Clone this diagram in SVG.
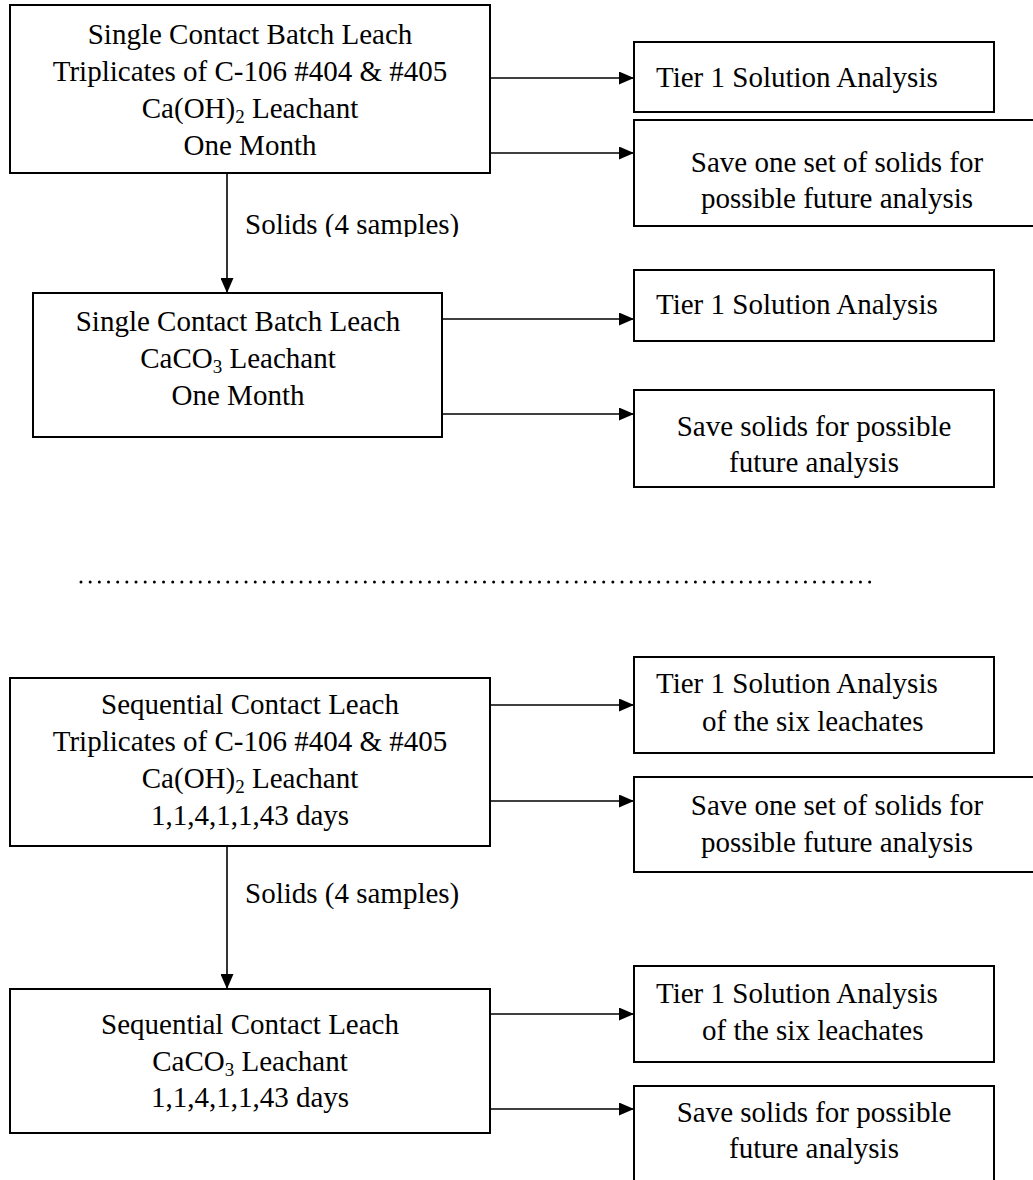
<svg xmlns="http://www.w3.org/2000/svg" width="1033" height="1180" viewBox="0 0 1033 1180">
<style>
  .box { fill: #ffffff; stroke: #000000; stroke-width: 2; }
  .t { font-family: "Liberation Serif", "Times New Roman", serif; font-size: 29px; fill: #000000; }
  .c { text-anchor: middle; }
  .conn { stroke: #000000; stroke-width: 1.6; fill: none; marker-end: url(#ah); }
  .dots { stroke: #000000; stroke-width: 3; stroke-linecap: round; stroke-dasharray: 0 9.17; fill: none; }
</style>
<defs>
  <marker id="ah" viewBox="0 0 15 13" refX="15" refY="6.5" markerWidth="15" markerHeight="13" markerUnits="userSpaceOnUse" orient="auto">
    <path d="M0,0 L15,6.5 L0,13 Z" fill="#000000"/>
  </marker>
  <clipPath id="clipLabel1"><rect x="240" y="190" width="260" height="47"/></clipPath>
</defs>
<rect width="1033" height="1180" fill="#ffffff"/>

<g id="connectors">
  <line class="conn" x1="490" y1="78" x2="634" y2="78"/>
  <line class="conn" x1="490" y1="153" x2="634" y2="153"/>
  <line class="conn" x1="227" y1="173" x2="227" y2="293"/>
  <line class="conn" x1="442" y1="319" x2="634" y2="319"/>
  <line class="conn" x1="442" y1="414" x2="634" y2="414"/>
  <line class="conn" x1="490" y1="705" x2="634" y2="705"/>
  <line class="conn" x1="490" y1="801" x2="634" y2="801"/>
  <line class="conn" x1="227" y1="846" x2="227" y2="989"/>
  <line class="conn" x1="490" y1="1014" x2="634" y2="1014"/>
  <line class="conn" x1="490" y1="1109" x2="634" y2="1109"/>
  <text class="t" x="245" y="234" clip-path="url(#clipLabel1)">Solids (4 samples)</text>
  <text class="t" x="245" y="903">Solids (4 samples)</text>
</g>

<g id="separator">
  <line class="dots" x1="81" y1="582" x2="870" y2="582"/>
</g>

<g id="batchCaOH">
  <rect class="box" x="10" y="5" width="480" height="168"/>
  <text class="t c" x="250" y="44">Single Contact Batch Leach</text>
  <text class="t c" x="250" y="81">Triplicates of C-106 #404 &amp; #405</text>
  <text class="t c" x="250" y="118">Ca(OH)<tspan font-size="19" dy="5">2</tspan><tspan dy="-5"> Leachant</tspan></text>
  <text class="t c" x="250" y="155">One Month</text>
</g>

<g id="tier1A">
  <rect class="box" x="634" y="42" width="360" height="70"/>
  <text class="t" x="656" y="87">Tier 1 Solution Analysis</text>
</g>

<g id="saveA">
  <rect class="box" x="634" y="120" width="420" height="106"/>
  <text class="t c" x="837" y="172">Save one set of solids for</text>
  <text class="t c" x="837" y="208">possible future analysis</text>
</g>

<g id="batchCaCO3">
  <rect class="box" x="33" y="293" width="409" height="144"/>
  <text class="t c" x="238" y="331">Single Contact Batch Leach</text>
  <text class="t c" x="238" y="368">CaCO<tspan font-size="19" dy="5">3</tspan><tspan dy="-5"> Leachant</tspan></text>
  <text class="t c" x="238" y="405">One Month</text>
</g>

<g id="tier1B">
  <rect class="box" x="634" y="270" width="360" height="71"/>
  <text class="t" x="656" y="314">Tier 1 Solution Analysis</text>
</g>

<g id="saveB">
  <rect class="box" x="634" y="390" width="360" height="97"/>
  <text class="t c" x="814" y="436">Save solids for possible</text>
  <text class="t c" x="814" y="472">future analysis</text>
</g>

<g id="seqCaOH">
  <rect class="box" x="10" y="678" width="480" height="168"/>
  <text class="t c" x="250" y="714">Sequential Contact Leach</text>
  <text class="t c" x="250" y="751">Triplicates of C-106 #404 &amp; #405</text>
  <text class="t c" x="250" y="788">Ca(OH)<tspan font-size="19" dy="5">2</tspan><tspan dy="-5"> Leachant</tspan></text>
  <text class="t c" x="250" y="825">1,1,4,1,1,43 days</text>
</g>

<g id="tier1C">
  <rect class="box" x="634" y="657" width="360" height="96"/>
  <text class="t" x="656" y="693">Tier 1 Solution Analysis</text>
  <text class="t" x="702" y="731">of the six leachates</text>
</g>

<g id="saveC">
  <rect class="box" x="634" y="777" width="420" height="95"/>
  <text class="t c" x="837" y="815">Save one set of solids for</text>
  <text class="t c" x="837" y="852">possible future analysis</text>
</g>

<g id="seqCaCO3">
  <rect class="box" x="10" y="989" width="480" height="144"/>
  <text class="t c" x="250" y="1034">Sequential Contact Leach</text>
  <text class="t c" x="250" y="1071">CaCO<tspan font-size="19" dy="5">3</tspan><tspan dy="-5"> Leachant</tspan></text>
  <text class="t c" x="250" y="1107">1,1,4,1,1,43 days</text>
</g>

<g id="tier1D">
  <rect class="box" x="634" y="966" width="360" height="96"/>
  <text class="t" x="656" y="1003">Tier 1 Solution Analysis</text>
  <text class="t" x="702" y="1040">of the six leachates</text>
</g>

<g id="saveD">
  <rect class="box" x="634" y="1086" width="360" height="110"/>
  <text class="t c" x="814" y="1122">Save solids for possible</text>
  <text class="t c" x="814" y="1158">future analysis</text>
</g>
</svg>
